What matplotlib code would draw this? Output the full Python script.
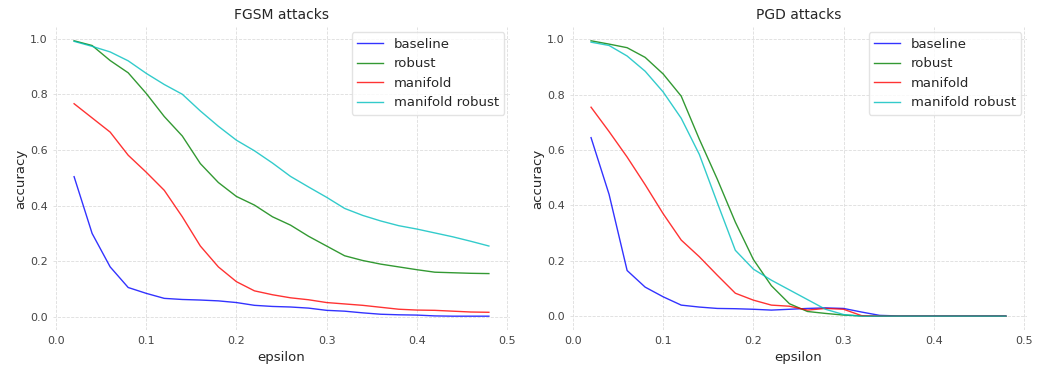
import numpy as np
import matplotlib
matplotlib.use("Agg")
import matplotlib.pyplot as plt

epsilons = [0.02, 0.04, 0.06, 0.08, 0.10, 0.12, 0.14, 0.16, 0.18, 0.20, 0.22, 0.24,
            0.26, 0.28, 0.30, 0.32, 0.34, 0.36, 0.38, 0.40, 0.42, 0.44, 0.46, 0.48]

labels = ["baseline", "robust", "manifold", "manifold robust"]
colors = ["b", "g", "r", "c"]

# FGSM accuracies
fgsm_baseline = [0.504, 0.30, 0.18, 0.106, 0.085, 0.067, 0.063, 0.061, 0.058, 0.052, 0.042, 0.038,
                 0.036, 0.032, 0.024, 0.021, 0.015, 0.010, 0.008, 0.007, 0.004, 0.003, 0.003, 0.003]
fgsm_robust = [0.992, 0.975, 0.921, 0.877, 0.803, 0.72, 0.65, 0.551, 0.483, 0.433, 0.402, 0.36,
               0.33, 0.29, 0.255, 0.22, 0.203, 0.19, 0.18, 0.17, 0.161, 0.159, 0.157, 0.156]
fgsm_manifold = [0.766, 0.715, 0.664, 0.581, 0.52, 0.455, 0.36, 0.255, 0.18, 0.127, 0.094, 0.08,
                 0.069, 0.062, 0.052, 0.047, 0.042, 0.035, 0.028, 0.025, 0.024, 0.021, 0.018, 0.017]
fgsm_manifold_robust = [0.99, 0.972, 0.952, 0.92, 0.875, 0.835, 0.80, 0.74, 0.685, 0.635, 0.597, 0.553,
                        0.505, 0.467, 0.43, 0.39, 0.365, 0.345, 0.328, 0.316, 0.302, 0.288, 0.272, 0.255]

# PGD accuracies
pgd_baseline = [0.645, 0.44, 0.165, 0.105, 0.07, 0.04, 0.033, 0.028, 0.027, 0.025, 0.022, 0.025,
                0.028, 0.03, 0.028, 0.015, 0.003, 0.001, 0.001, 0.001, 0.001, 0.001, 0.001, 0.001]
pgd_robust = [0.995, 0.983, 0.97, 0.935, 0.875, 0.795, 0.64, 0.495, 0.34, 0.205, 0.11, 0.045,
              0.017, 0.01, 0.004, 0.001, 0.0, 0.0, 0.0, 0.0, 0.0, 0.0, 0.0, 0.0]
pgd_manifold = [0.755, 0.667, 0.575, 0.475, 0.37, 0.275, 0.215, 0.148, 0.083, 0.058, 0.04, 0.036,
                0.022, 0.028, 0.025, 0.002, 0.0, 0.0, 0.0, 0.0, 0.0, 0.0, 0.0, 0.0]
pgd_manifold_robust = [0.99, 0.978, 0.94, 0.885, 0.81, 0.715, 0.585, 0.41, 0.238, 0.17, 0.13, 0.095,
                       0.06, 0.025, 0.006, 0.0, 0.0, 0.0, 0.0, 0.0, 0.0, 0.0, 0.0, 0.0]

panels = [
    ("FGSM attacks", [fgsm_baseline, fgsm_robust, fgsm_manifold, fgsm_manifold_robust]),
    ("PGD attacks", [pgd_baseline, pgd_robust, pgd_manifold, pgd_manifold_robust]),
]

text_col = "#262626"

fig, axes = plt.subplots(1, 2, figsize=(10.38, 3.65), dpi=100)
fig.subplots_adjust(left=0.0514, right=0.989, bottom=0.096, top=0.926, wspace=0.133)

for ax, (title, series) in zip(axes, panels):
    for vals, lab, col in zip(series, labels, colors):
        ax.plot(epsilons, vals, color=col, alpha=0.8, linewidth=1.0, label=lab)
    ax.set_title(title, fontsize=10, color=text_col)
    ax.set_xlabel("epsilon", fontsize=9.5, color=text_col, labelpad=4)
    ax.set_ylabel("accuracy", fontsize=9.5, color=text_col, labelpad=2)
    ax.set_xticks([0.0, 0.1, 0.2, 0.3, 0.4, 0.5])
    ax.set_yticks([0.0, 0.2, 0.4, 0.6, 0.8, 1.0])
    ax.set_xlim(-0.003, 0.503)
    ax.tick_params(labelsize=8, colors="#444444", length=0, pad=4)
    ax.grid(True, linestyle="--", color="#dddddd", linewidth=0.6)
    ax.set_axisbelow(True)
    for s in ax.spines.values():
        s.set_visible(False)
    leg = ax.legend(loc="upper right", fontsize=9.5, frameon=True, borderaxespad=0.4)
    leg.get_frame().set_edgecolor("#dddddd")
    for t in leg.get_texts():
        t.set_color(text_col)

fig.savefig("out.png", dpi=100)
